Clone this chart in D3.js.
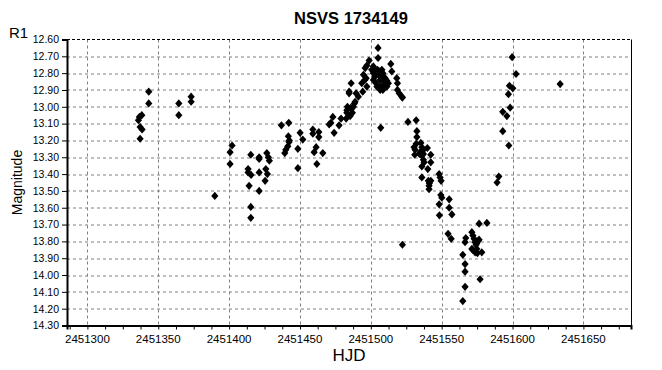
<html>
<head>
    <script src="https://d3js.org/d3.v7.min.js"></script>
    <title>NSVS 1734149</title>
    <style>
        body { margin: 0; background: #fff; }
        text { font-family: "Liberation Sans", Arial, sans-serif; }
    </style>
</head>
<body>
<svg id="chart"></svg>
<script>
    // observations: heliocentric julian date and R1 magnitude
    var hjd = [
        2451343.3, 2451343.3, 2451364.5, 2451364.5, 2451373.2, 2451373.2, 2451338.4, 2451336.7, 2451336.0, 2451337.2,
        2451338.6, 2451337.2,
        2451402.1, 2451400.7, 2451400.7, 2451389.9, 2451413.4, 2451413.4, 2451415.5, 2451414.1, 2451415.3, 2451421.2,
        2451421.2, 2451426.6, 2451427.7, 2451428.4, 2451421.2, 2451425.9, 2451427.0, 2451425.4, 2451421.2, 2451415.3,
        2451415.3,
        2451436.9, 2451442.1, 2451441.8, 2451442.5, 2451442.3, 2451441.4, 2451440.0, 2451439.3, 2451450.1, 2451452.0,
        2451448.5, 2451448.5, 2451459.1, 2451459.1, 2451463.3, 2451463.3, 2451461.4, 2451460.0, 2451466.1, 2451461.9,
        2451473.2, 2451470.6, 2451471.8, 2451474.1, 2451477.6, 2451479.0,
        2451483.1, 2451482.6, 2451485.4, 2451485.9, 2451488.4, 2451487.7, 2451483.5, 2451483.1, 2451487.0, 2451484.7,
        2451484.7, 2451486.1, 2451489.6, 2451491.2, 2451488.9, 2451494.3, 2451495.8, 2451496.7, 2451497.2, 2451496.0,
        2451497.2, 2451498.8, 2451494.8, 2451493.6,
        2451505.1, 2451505.1, 2451501.8, 2451503.0, 2451504.7, 2451506.1, 2451507.8, 2451508.5, 2451505.4, 2451503.0,
        2451506.6, 2451508.9, 2451510.1, 2451511.3, 2451510.8, 2451508.9, 2451506.6, 2451504.3, 2451506.6, 2451508.5,
        2451511.3, 2451501.8, 2451500.6, 2451501.8, 2451503.7, 2451512.4, 2451509.4, 2451514.1, 2451514.8, 2451518.3,
        2451518.8, 2451518.8, 2451520.0, 2451521.9, 2451522.3, 2451507.0,
        2451526.2, 2451532.0, 2451532.5, 2451532.5, 2451532.0, 2451530.5, 2451531.2, 2451535.3, 2451536.0, 2451536.7,
        2451534.8, 2451537.1, 2451536.0, 2451534.3, 2451539.9, 2451542.3, 2451531.0, 2451537.1, 2451537.6, 2451542.3,
        2451536.0, 2451540.2, 2451536.0, 2451540.6, 2451542.3, 2451541.3, 2451541.1, 2451541.1, 2451548.2, 2451548.9,
        2451549.6, 2451549.4, 2451550.1, 2451555.3, 2451548.2, 2451555.3, 2451557.2, 2451548.4, 2451554.5, 2451556.7,
        2451522.3,
        2451576.4, 2451581.9, 2451571.3, 2451567.0, 2451566.5, 2451572.0, 2451572.9, 2451573.6, 2451574.8, 2451575.9,
        2451574.3, 2451572.0, 2451573.6, 2451575.2, 2451578.3, 2451576.4, 2451574.8, 2451571.3, 2451564.9, 2451566.5,
        2451566.5, 2451577.1, 2451566.5, 2451564.9,
        2451589.1, 2451590.3, 2451597.4, 2451593.1, 2451593.1, 2451596.0, 2451598.3, 2451597.1, 2451597.8, 2451600.2,
        2451602.5, 2451599.7, 2451633.6
    ];
    var mag = [
        12.91, 12.98, 12.98, 13.05, 12.94, 12.97, 13.05, 13.06, 13.08, 13.12,
        13.135, 13.19,
        13.23, 13.27, 13.34, 13.53, 13.37, 13.39, 13.405, 13.47, 13.285, 13.30,
        13.31, 13.275, 13.30, 13.32, 13.39, 13.37, 13.40, 13.44, 13.50, 13.595,
        13.66,
        13.11, 13.095, 13.175, 13.20, 13.21, 13.235, 13.255, 13.275, 13.155, 13.195,
        13.25, 13.365, 13.135, 13.16, 13.15, 13.18, 13.24, 13.27, 13.275, 13.34,
        13.06, 13.105, 13.095, 13.155, 13.11, 13.07,
        13.035, 13.07, 13.055, 13.005, 12.98, 13.00, 13.00, 13.02, 13.035, 12.91,
        12.92, 12.86, 12.92, 12.94, 12.97, 12.91, 12.84, 12.83, 12.88, 12.77,
        12.755, 12.725, 12.81, 12.86,
        12.65, 12.71, 12.76, 12.78, 12.78, 12.79, 12.78, 12.80, 12.81, 12.82,
        12.84, 12.82, 12.83, 12.845, 12.86, 12.87, 12.88, 12.88, 12.90, 12.90,
        12.88, 12.80, 12.78, 12.84, 12.86, 12.86, 12.85, 12.745, 12.79, 12.83,
        12.86, 12.90, 12.92, 12.94, 12.945, 13.125,
        13.09, 13.08, 13.145, 13.18, 13.22, 13.24, 13.255, 13.215, 13.24, 13.26,
        13.27, 13.28, 13.29, 13.28, 13.245, 13.285, 13.285, 13.315, 13.33, 13.33,
        13.355, 13.37, 13.42, 13.44, 13.44, 13.455, 13.47, 13.49, 13.40, 13.42,
        13.44, 13.525, 13.54, 13.55, 13.58, 13.60, 13.64, 13.645, 13.755, 13.785,
        13.82,
        13.695, 13.69, 13.745, 13.78, 13.805, 13.765, 13.785, 13.805, 13.81, 13.795,
        13.82, 13.85, 13.865, 13.87, 13.865, 13.79, 13.845, 13.845, 13.88, 13.935,
        13.98, 14.025, 14.07, 14.155,
        13.45, 13.415, 13.23, 13.145, 13.03, 13.055, 13.005, 12.925, 12.875, 12.89,
        12.805, 12.705, 12.865
    ];

    var xTicks = [2451300, 2451350, 2451400, 2451450, 2451500, 2451550, 2451600, 2451650];
    var yTicks = [12.6, 12.7, 12.8, 12.9, 13.0, 13.1, 13.2, 13.3, 13.4, 13.5, 13.6, 13.7, 13.8, 13.9, 14.0, 14.1, 14.2, 14.3];
    var xDomain = [2451285.6, 2451683.6];
    var yDomain = [12.6, 14.3];

    var data = hjd.map(function (d, i) { return {hjd: d, mag: mag[i]}; });

    var svg = d3.select("#chart").attr("width", 662).attr("height", 370);

    var margin = {top: 39.5, right: 31, bottom: 44.5, left: 67},
        width = 662 - margin.left - margin.right,
        height = 370 - margin.top - margin.bottom;

    var g = svg.append("g").attr("transform", "translate(" + margin.left + "," + margin.top + ")");

    var x = d3.scaleLinear().domain(xDomain).range([0, width]);
    var y = d3.scaleLinear().domain(yDomain).range([0, height]);

    // grid
    g.append("g").selectAll("line").data(yTicks.slice(1, -1)).enter().append("line")
        .attr("x1", 0).attr("x2", width)
        .attr("y1", function (d) { return Math.round(y(d)) + 0.5; })
        .attr("y2", function (d) { return Math.round(y(d)) + 0.5; })
        .attr("stroke", "#808080").attr("stroke-dasharray", "3,3");
    g.append("g").selectAll("line").data(xTicks).enter().append("line")
        .attr("y1", 0).attr("y2", height)
        .attr("x1", function (d) { return Math.round(x(d)) + 0.5; })
        .attr("x2", function (d) { return Math.round(x(d)) + 0.5; })
        .attr("stroke", "#808080").attr("stroke-dasharray", "3,3");

    // frame
    g.append("line").attr("x1", 0).attr("x2", width).attr("y1", 0).attr("y2", 0)
        .attr("stroke", "#000").attr("stroke-dasharray", "3,2");
    g.append("line").attr("x1", width + 0.5).attr("x2", width + 0.5).attr("y1", 0).attr("y2", height)
        .attr("stroke", "#000");

    // axes
    var minor = d3.range(xDomain[0] + 1.9, xDomain[1], 12.5);
    var xAxis = d3.axisBottom(x).tickValues(minor).tickSize(4).tickFormat("");
    g.append("g").attr("transform", "translate(0," + height + ")").call(xAxis)
        .call(function (a) { a.select(".domain").attr("stroke-width", 2); });

    g.append("g").attr("transform", "translate(0," + (height + 17) + ")")
        .selectAll("text").data(xTicks).enter().append("text")
        .attr("x", function (d) { return x(d); })
        .attr("text-anchor", "middle")
        .attr("font-size", "11.5px")
        .text(function (d) { return d; });

    var yAxis = d3.axisLeft(y).tickValues(yTicks).tickSize(5).tickFormat(d3.format(".2f"));
    g.append("g").call(yAxis)
        .call(function (a) {
            a.select(".domain").attr("stroke-width", 2);
            a.selectAll("text").attr("font-size", "10.5px").attr("font-family", "Liberation Sans, Arial, sans-serif");
        });

    // marks
    var diamond = {draw: function (ctx) {
        ctx.moveTo(0, -4.1); ctx.lineTo(3.6, 0); ctx.lineTo(0, 4.1); ctx.lineTo(-3.6, 0); ctx.closePath();
    }};
    g.append("g").selectAll("path").data(data).enter().append("path")
        .attr("transform", function (d) { return "translate(" + x(d.hjd) + "," + y(d.mag) + ")"; })
        .attr("d", d3.symbol().type(diamond))
        .attr("fill", "#000");

    // labels
    svg.append("text").attr("x", 351).attr("y", 24).attr("text-anchor", "middle")
        .attr("font-size", "16.5px").attr("font-weight", "bold").text("NSVS 1734149");
    svg.append("text").attr("x", 9).attr("y", 38).attr("font-size", "15px").text("R1");
    svg.append("text").attr("transform", "translate(22," + (margin.top + height / 2) + ") rotate(-90)")
        .attr("text-anchor", "middle").attr("font-size", "14px").text("Magnitude");
    svg.append("text").attr("x", margin.left + width / 2).attr("y", 361).attr("text-anchor", "middle")
        .attr("font-size", "17px").text("HJD");
</script>
</body>
</html>
